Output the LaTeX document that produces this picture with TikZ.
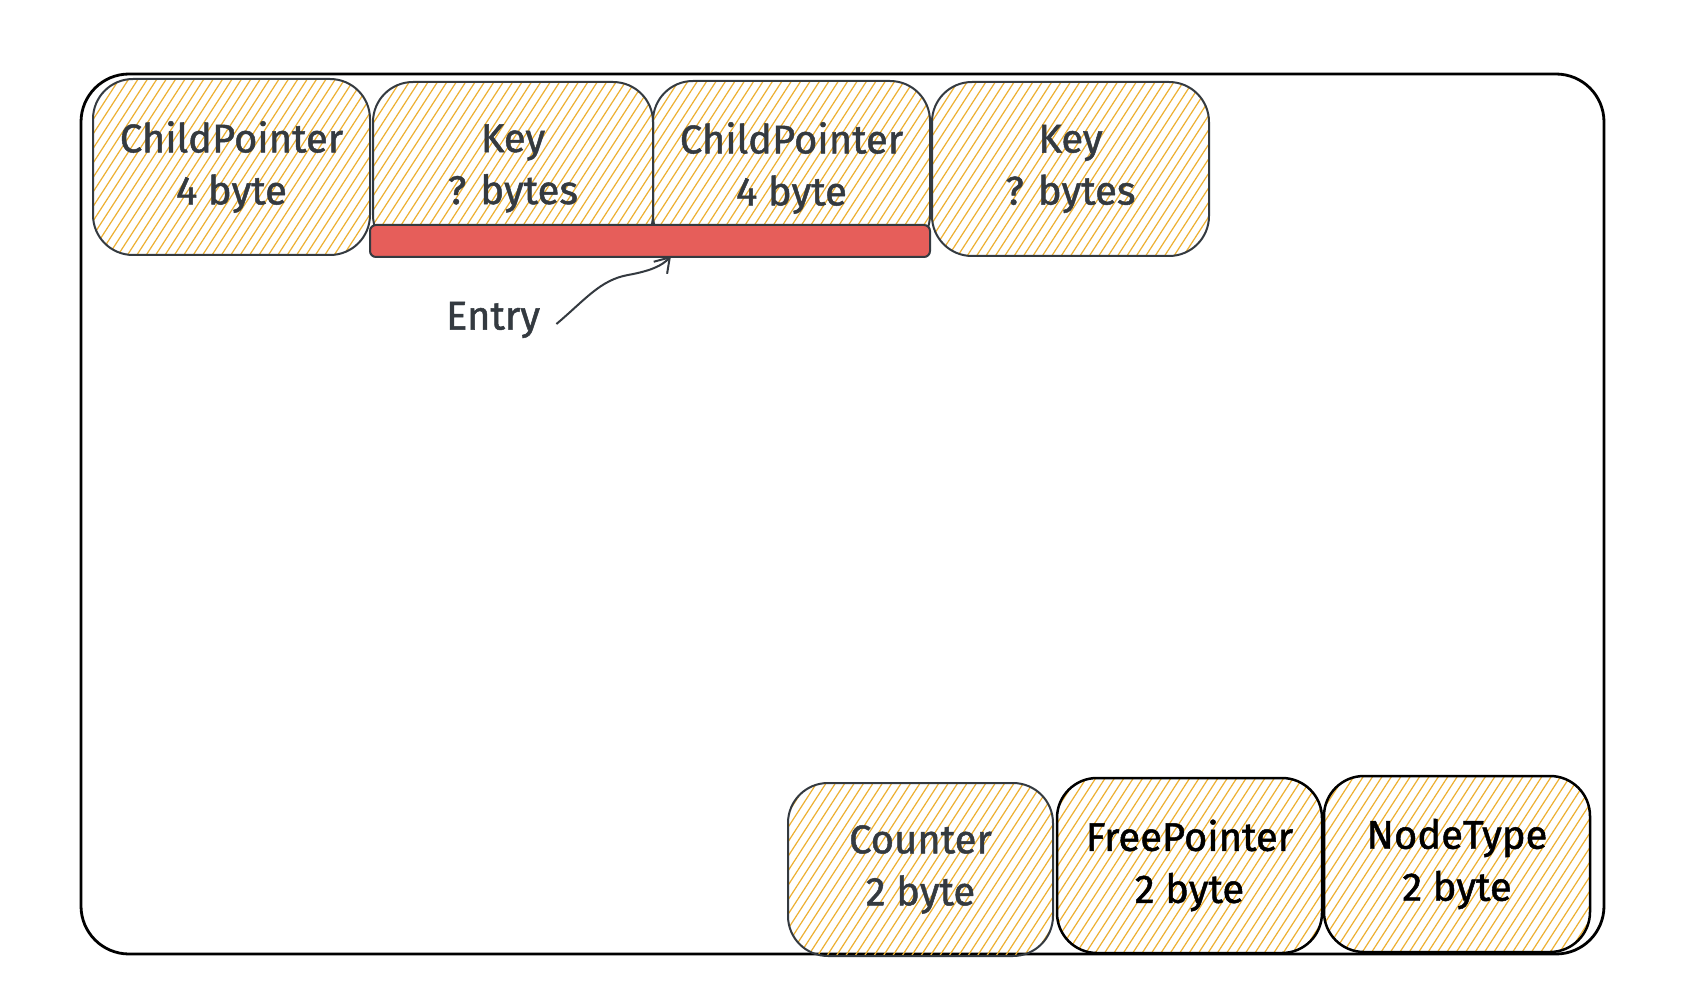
\documentclass[tikz,border=0pt]{standalone}
\usepackage{fontspec}
\setmainfont{Fira Sans}[FakeBold=1.2]
\usetikzlibrary{arrows.meta,calc}
\definecolor{ink}{HTML}{343A40}
\definecolor{hatchc}{HTML}{EDB032}
\definecolor{barred}{HTML}{E65E5A}
\tikzset{
  hachure/.style={path picture={
    \foreach \k in {-36,...,36}{
      \draw[hatchc,line width=0.6pt]
        ($(path picture bounding box.center)+(\k*4.7pt,0pt)+(-70pt,-108pt)$) -- ++(140pt,216pt);
    }}},
  field/.style={draw=#1,line width=1pt,rounded corners=20pt,hachure,inner sep=0pt,
    align=center,font=\fontsize{20pt}{26pt}\selectfont,text=#1},
  field/.default=ink,
  container/.style={draw=black,line width=1.4pt,rounded corners=24pt,inner sep=0pt},
  entrybar/.style={draw=ink,fill=barred,line width=1pt,rounded corners=3pt,inner sep=0pt},
  lbl/.style={font=\fontsize{20pt}{26pt}\selectfont,text=ink,inner sep=0pt},
  pointer/.style={draw=ink,line width=1pt,-{Straight Barb[length=7pt,width=9pt]}}
}
\begin{document}
\begin{tikzpicture}[x=0.5pt,y=-0.5pt]
\useasboundingbox (0,0) rectangle (1694,1006);
\fill[white] (0,0) rectangle (1694,1006);
% container
\node[container,minimum width=761.5pt,minimum height=440pt] (outer) at (842.5,514) {};
% top row
\node[field,minimum width=138.5pt,minimum height=88pt] (cp1) at (231.5,167) {ChildPointer\\4 byte};
\node[field,minimum width=140pt,minimum height=86.5pt] (key1) at (513,168.5) {Key\\? bytes};
\node[field,minimum width=138.5pt,minimum height=87pt] (cp2) at (791.5,168) {ChildPointer\\4 byte};
\node[field,minimum width=138.5pt,minimum height=87pt] (key2) at (1070.5,169) {Key\\? bytes};
% entry bar
\node[entrybar,minimum width=280pt,minimum height=16pt] (bar) at (650,241) {};
% entry label
\node[lbl] (entry) at (493,320) {Entry};
\coordinate (tip) at (671,256);
\draw[pointer] (entry.east) ++(16,4) coordinate (start)
  .. controls (585,300) and (600,280) .. (628,275)
  .. controls (650,271) and (662,266) .. (tip);
% bottom row
\node[field,minimum width=132.5pt,minimum height=86.5pt] (counter) at (920.5,869.5) {Counter\\2 byte};
\node[field=black,line width=1.25pt,minimum width=132.5pt,minimum height=87.5pt] (free) at (1189.5,865.5) {FreePointer\\2 byte};
\node[field=black,line width=1.25pt,minimum width=133pt,minimum height=88pt] (ntype) at (1457,864) {NodeType\\2 byte};
\end{tikzpicture}
\end{document}
